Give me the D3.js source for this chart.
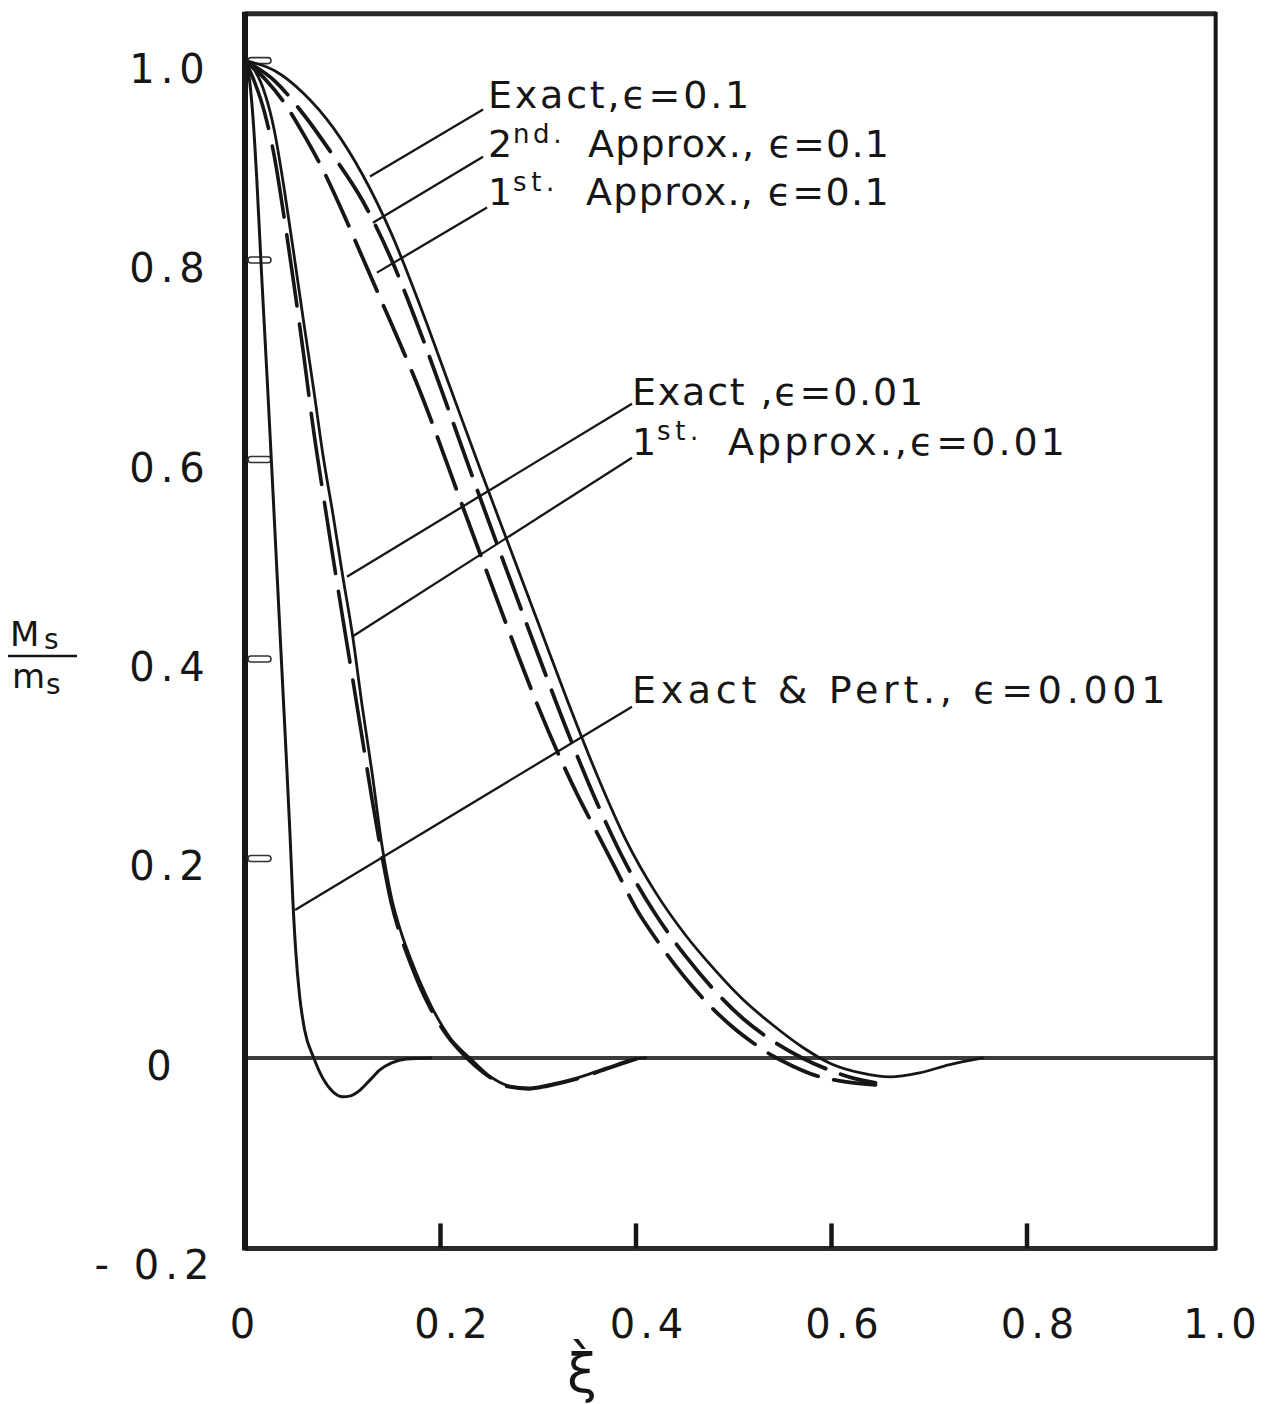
<!DOCTYPE html>
<html><head><meta charset="utf-8">
<script src="https://cdn.jsdelivr.net/npm/d3@7"></script>
<style>body{margin:0;background:#fff}svg{display:block}</style></head>
<body><svg id="chart" width="1266" height="1404"></svg>
<script>
// ---------------- data ----------------
const xTickValues = [0, 0.2, 0.4, 0.6, 0.8, 1.0];
const xTickLabels = ["0", "0.2", "0.4", "0.6", "0.8", "1.0"];
const yTickValues = [1.0, 0.8, 0.6, 0.4, 0.2, 0, -0.2];
const yTickLabels = ["1.0", "0.8", "0.6", "0.4", "0.2", "0", "- 0.2"];

// [xi, Ms/ms]
const exactEps0001 = [[0,1],[0.004,0.985],[0.008,0.945],[0.012,0.882],[0.017,0.785],[0.023,0.675],[0.029,0.560],[0.035,0.442],[0.041,0.326],[0.046,0.225],[0.049,0.157],[0.052,0.106],[0.056,0.061],[0.061,0.028],[0.070,0.001],[0.080,-0.021],[0.090,-0.034],[0.100,-0.039],[0.108,-0.038],[0.118,-0.032],[0.128,-0.022],[0.138,-0.012],[0.150,-0.005],[0.165,-0.001],[0.190,0]];

const exactEps001 = [[0,1],[0.010,0.990],[0.020,0.968],[0.030,0.930],[0.040,0.872],[0.050,0.806],[0.060,0.738],[0.070,0.672],[0.080,0.603],[0.090,0.545],[0.100,0.483],[0.110,0.424],[0.120,0.352],[0.130,0.286],[0.140,0.214],[0.150,0.160],[0.160,0.125],[0.170,0.098],[0.180,0.074],[0.190,0.053],[0.200,0.035],[0.210,0.020],[0.220,0.009],[0.230,0.000],[0.250,-0.018],[0.270,-0.028],[0.290,-0.030],[0.310,-0.027],[0.340,-0.020],[0.370,-0.010],[0.400,-0.001],[0.410,0]];
const firstEps001 = [[0,1],[0.010,0.978],[0.020,0.948],[0.030,0.904],[0.040,0.843],[0.050,0.776],[0.060,0.705],[0.070,0.630],[0.080,0.565],[0.090,0.502],[0.100,0.441],[0.110,0.381],[0.120,0.320],[0.130,0.259],[0.140,0.203],[0.150,0.154],[0.160,0.120],[0.170,0.093],[0.180,0.069],[0.190,0.049],[0.200,0.032],[0.210,0.018],[0.220,0.007],[0.230,-0.003],[0.250,-0.019],[0.270,-0.029],[0.290,-0.031],[0.310,-0.028],[0.340,-0.021],[0.370,-0.011],[0.400,-0.001]];

const exactEps01 = [[0,1],[0.030,0.990],[0.060,0.967],[0.090,0.933],[0.120,0.886],[0.150,0.826],[0.180,0.752],[0.210,0.672],[0.240,0.592],[0.270,0.514],[0.300,0.436],[0.330,0.358],[0.360,0.284],[0.390,0.218],[0.420,0.166],[0.450,0.124],[0.480,0.089],[0.510,0.058],[0.540,0.033],[0.570,0.011],[0.600,-0.006],[0.630,-0.015],[0.660,-0.019],[0.690,-0.015],[0.720,-0.007],[0.755,0]];
const secondEps01 = [[0,1],[0.030,0.980],[0.060,0.946],[0.090,0.905],[0.120,0.860],[0.150,0.800],[0.180,0.726],[0.210,0.645],[0.240,0.563],[0.270,0.483],[0.300,0.404],[0.330,0.327],[0.360,0.256],[0.390,0.194],[0.420,0.144],[0.450,0.103],[0.480,0.068],[0.510,0.039],[0.540,0.017],[0.570,0.000],[0.600,-0.013],[0.625,-0.021],[0.645,-0.025]];
const firstEps01 = [[0,1],[0.020,0.982],[0.040,0.958],[0.060,0.926],[0.080,0.890],[0.100,0.848],[0.120,0.803],[0.140,0.758],[0.160,0.713],[0.180,0.666],[0.200,0.614],[0.220,0.560],[0.240,0.507],[0.260,0.454],[0.280,0.402],[0.300,0.352],[0.320,0.306],[0.340,0.264],[0.360,0.226],[0.380,0.188],[0.400,0.150],[0.420,0.120],[0.440,0.093],[0.460,0.069],[0.480,0.048],[0.500,0.030],[0.520,0.015],[0.540,0.002],[0.560,-0.008],[0.585,-0.018],[0.615,-0.024],[0.645,-0.027]];

// ---------------- layout ----------------
const svg = d3.select("#chart");
const x = d3.scaleLinear().domain([0, 1]).range([245, 1222.5]);
const y = d3.scaleLinear().domain([-0.2, 1]).range([1257.4, 60.6]);
const FONT = "'DejaVu Sans', 'Liberation Sans', sans-serif";
const ink = "#161616";

svg.append("rect").attr("width", 1266).attr("height", 1404).attr("fill", "#fff");

// zero line
svg.append("line").attr("x1", x(0)).attr("x2", x(0.993)).attr("y1", y(0)).attr("y2", y(0))
  .attr("stroke", "#3c3c3c").attr("stroke-width", 4);

// frame
const fx0 = x(0), fx1 = x(0.993), fy0 = y(1.047), fy1 = y(-0.191);
svg.append("line").attr("x1", fx0).attr("x2", fx1).attr("y1", fy0).attr("y2", fy0).attr("stroke", "#2a2a2a").attr("stroke-width", 5);
svg.append("line").attr("x1", fx0).attr("x2", fx1).attr("y1", fy1).attr("y2", fy1).attr("stroke", "#2a2a2a").attr("stroke-width", 5);
svg.append("line").attr("x1", fx0).attr("x2", fx0).attr("y1", fy0 - 2).attr("y2", fy1 + 2).attr("stroke", ink).attr("stroke-width", 6);
svg.append("line").attr("x1", fx1).attr("x2", fx1).attr("y1", fy0 - 2).attr("y2", fy1 + 2).attr("stroke", ink).attr("stroke-width", 4);

// bottom inner ticks
svg.selectAll(".xt").data(xTickValues.filter(v => v > 0 && v < 1)).enter().append("line")
  .attr("x1", d => x(d)).attr("x2", d => x(d)).attr("y1", fy1).attr("y2", fy1 - 25)
  .attr("stroke", ink).attr("stroke-width", 4.5);

// left hollow tick marks
svg.selectAll(".yt").data(yTickValues.filter(v => v > 0)).enter().append("rect")
  .attr("x", fx0 + 3).attr("y", d => y(d) - 3).attr("width", 23).attr("height", 6).attr("rx", 3)
  .attr("fill", "#fff").attr("stroke", "#333").attr("stroke-width", 1.6);

// tick labels
svg.selectAll(".xl").data(xTickValues).enter().append("text")
  .attr("x", (d) => x(d) + (d > 0 && d < 1 ? 13 : 0)).attr("y", 1338)
  .attr("text-anchor", "middle").attr("font-family", FONT).attr("font-size", 40)
  .attr("letter-spacing", 5).attr("fill", ink)
  .text((d, i) => xTickLabels[i]);
svg.selectAll(".yl").data(yTickValues).enter().append("text")
  .attr("x", (d) => d === 0 ? 162 : (d < 0 ? 155 : 170)).attr("y", d => y(d) + 22)
  .attr("text-anchor", "middle").attr("font-family", FONT).attr("font-size", 40)
  .attr("letter-spacing", 6).attr("fill", ink)
  .text((d, i) => yTickLabels[i]);

// y-axis title as a fraction
const yt = svg.append("text").attr("font-family", FONT).attr("fill", ink).attr("font-size", 34);
yt.append("tspan").attr("x", 10).attr("y", 646).text("M");
yt.append("tspan").attr("x", 44).attr("y", 649).attr("font-size", 28).text("s");
yt.append("tspan").attr("x", 12).attr("y", 688).text("m");
yt.append("tspan").attr("x", 46).attr("y", 694).attr("font-size", 28).text("s");
svg.append("line").attr("x1", 8).attr("x2", 77).attr("y1", 656).attr("y2", 656).attr("stroke", ink).attr("stroke-width", 2.5);

svg.append("text").attr("x", 582).attr("y", 1392).attr("text-anchor", "middle")
  .attr("font-family", FONT).attr("font-size", 54).attr("fill", ink).text("\u03BE\u0300");

// curves
const line = d3.line().x(d => x(d[0])).y(d => y(d[1])).curve(d3.curveMonotoneX);
const curves = [
  {d: exactEps0001, w: 3, dash: null},
  {d: firstEps001, w: 3.6, dash: "72,18"},
  {d: exactEps001, w: 2.8, dash: null},
  {d: firstEps01, w: 3.8, dash: "55,16"},
  {d: secondEps01, w: 3.8, dash: "55,16"},
  {d: exactEps01, w: 2.8, dash: null}
];
curves.forEach(c => {
  svg.append("path").attr("d", line(c.d)).attr("fill", "none").attr("stroke", ink)
    .attr("stroke-width", c.w).attr("stroke-linecap", "round")
    .attr("stroke-dasharray", c.dash);
});

// leader lines (data coordinates)
const leaders = [
  [[0.2435, 0.951], [0.1279, 0.8837]],
  [[0.2435, 0.9037], [0.1309, 0.8375]],
  [[0.2476, 0.8526], [0.1350, 0.7874]],
  [[0.3959, 0.656], [0.1043, 0.4824]],
  [[0.3959, 0.6018], [0.1095, 0.4223]],
  [[0.3959, 0.3521], [0.0512, 0.1484]]
];
leaders.forEach(l => {
  svg.append("line").attr("x1", x(l[0][0])).attr("y1", y(l[0][1]))
    .attr("x2", x(l[1][0])).attr("y2", y(l[1][1]))
    .attr("stroke", ink).attr("stroke-width", 2.3);
});

// labels: each block is one text with positioned tspans
function block(parts) {
  const t = svg.append("text").attr("font-family", FONT).attr("fill", ink).attr("font-size", 38);
  parts.forEach(p => {
    const s = t.append("tspan").attr("x", x(p[1])).attr("y", y(p[2])).text(p[0]);
    if (p[4]) s.attr("font-size", p[4]);
    if (p[3]) {
      const w = s.node().getComputedTextLength();
      s.attr("letter-spacing", ((p[3] - w) / p[0].length).toFixed(2));
    }
  });
}
block([
  ["Exact,\u03F5=0.1", 0.2486, 0.9529, 264],
  ["2", 0.2486, 0.9037],
  ["nd.", 0.2742, 0.9178, 52, 26],
  ["Approx., \u03F5=0.1", 0.3509, 0.9037, 302],
  ["1", 0.2486, 0.8556],
  ["st.", 0.2742, 0.8696, 46, 26],
  ["Approx., \u03F5=0.1", 0.3488, 0.8556, 304]
]);
block([
  ["Exact ,\u03F5=0.01", 0.3959, 0.6550, 293],
  ["1", 0.3959, 0.6048],
  ["st.", 0.4215, 0.6199, 46, 26],
  ["Approx.,\u03F5=0.01", 0.4941, 0.6048, 340]
]);
block([
  ["Exact & Pert., \u03F5=0.001", 0.3959, 0.3561, 538]
]);
</script>
</body></html>
